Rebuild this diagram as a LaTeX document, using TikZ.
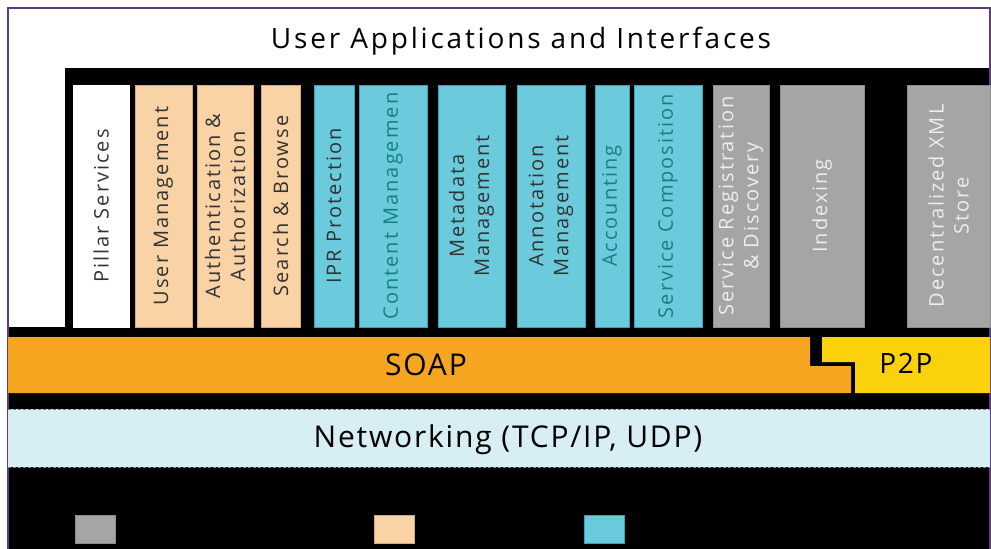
\documentclass[tikz,border=0pt]{standalone}
\usepackage{fontspec}
\setmainfont{Open Sans}
\newfontfamily\spaced[LetterSpace=10]{Open Sans}
\newfontfamily\spacedb[LetterSpace=6]{Open Sans}
\definecolor{peach}{HTML}{F9D2A5}
\definecolor{peachd}{HTML}{D9A878}
\definecolor{cyanb}{HTML}{6BCBDC}
\definecolor{cyand}{HTML}{2FA6B4}
\definecolor{grayb}{HTML}{A5A5A5}
\definecolor{grayd}{HTML}{8C8C8C}
\definecolor{soap}{HTML}{F6A521}
\definecolor{ptwop}{HTML}{FBD10C}
\definecolor{netblue}{HTML}{D8EEF5}
\definecolor{purp}{HTML}{5E3C7A}
\definecolor{tealtxt}{HTML}{17807F}
\definecolor{darktxt}{HTML}{333333}
\definecolor{lighttxt}{HTML}{EDEDED}
\tikzset{
  pillar/.style={rotate=90, inner sep=0pt, align=center, font=\spaced\fontsize{20}{25}\selectfont,
    minimum height=#1, minimum width=242pt, line width=0.8pt},
  whitebox/.style={pillar=#1, fill=white, draw=white, text=darktxt},
  peachbox/.style={pillar=#1, fill=peach, draw=peachd, text=darktxt},
  cyanbox/.style={pillar=#1, fill=cyanb, draw=cyand, text=darktxt},
  graybox/.style={pillar=#1, fill=grayb, draw=grayd, text=lighttxt},
  legendsq/.style={minimum width=40pt, minimum height=28pt, inner sep=0pt, line width=0.6pt},
  bigtext/.style={anchor=base, inner sep=0pt, font=\spacedb\fontsize{#1}{#1}\selectfont},
}
\begin{document}
\begin{tikzpicture}[x=1pt,y=-1pt]
\useasboundingbox (0,0) rectangle (991,549);
\fill[white] (0,0) rectangle (991,549);
% black backdrop
\fill[black] (65,68) -- (990,68) -- (990,549) -- (8,549) -- (8,327) -- (65,327) -- cycle;
% frame
\draw[purp, line width=2pt] (8,549) -- (8,8) -- (990,8) -- (990,549);
% title
\node[anchor=base, inner sep=0pt, font=\spaced\fontsize{28}{32}\selectfont] (title) at (521,48) {User Applications and Interfaces};
% pillar boxes
\node[whitebox=56pt] (pil) at (101,206) {Pillar Services};
\node[peachbox=57pt] (usr) at (163.5,206) {User Management};
\node[peachbox=56pt] (aut) at (225,206) {Authentication \&\\Authorization};
\node[peachbox=39pt] (sea) at (280.5,206) {Search \& Browse};
\node[cyanbox=40pt] (ipr) at (334,206) {IPR Protection};
\node[cyanbox=68pt, text=tealtxt] (con) at (393,206) {Content Managemen};
\node[cyanbox=67pt] (met) at (471.5,206) {Metadata\\Management};
\node[cyanbox=68pt] (ann) at (551,206) {Annotation\\Management};
\node[cyanbox=34pt, text=tealtxt] (acc) at (612,206) {Accounting};
\node[cyanbox=68pt, text=tealtxt] (sco) at (668,206) {Service Composition};
\node[graybox=56pt] (reg) at (741,206) {Service Registration\\\& Discovery};
\node[graybox=84pt] (ind) at (822,206) {Indexing};
\node[graybox=83pt] (dxm) at (948.5,206) {Decentralized XML\\Store};
% SOAP and P2P
\fill[soap] (8,337) -- (810,337) -- (810,366) -- (851,366) -- (851,393) -- (8,393) -- cycle;
\fill[ptwop] (822,337) -- (990,337) -- (990,393) -- (855,393) -- (855,362) -- (822,362) -- cycle;
\node[bigtext=30] (soapl) at (426,375) {SOAP};
\node[bigtext=28] (p2pl) at (906,373) {P2P};
% networking
\fill[netblue] (8,409) rectangle (990,467);
\draw[gray, densely dashed, line width=0.6pt] (8,409) -- (990,409) (8,467) -- (990,467);
\node[bigtext=30] (net) at (508,447) {Networking (TCP/IP, UDP)};
% legend squares
\node[legendsq, fill=grayb, draw=grayd] (lg1) at (95.5,529) {};
\node[legendsq, fill=peach, draw=peachd] (lg2) at (394.5,529) {};
\node[legendsq, fill=cyanb, draw=cyand] (lg3) at (604,529) {};
\end{tikzpicture}
\end{document}
